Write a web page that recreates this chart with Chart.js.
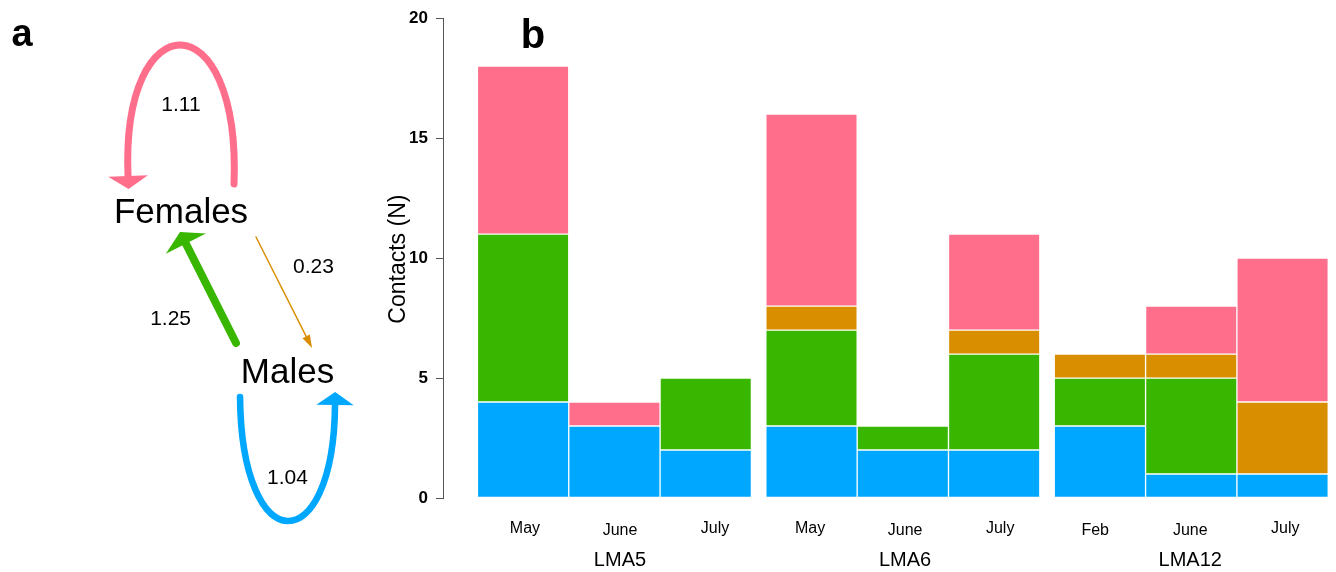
<!DOCTYPE html>
<html>
<head>
<meta charset="utf-8">
<script src="https://cdn.jsdelivr.net/npm/chart.js@4.4.1/dist/chart.umd.min.js"></script>
<style>
  html, body { margin: 0; padding: 0; background: #fff; }
  #wrap { position: relative; width: 1336px; height: 572px; }
  #wrap canvas { position: absolute; top: 0; left: 0; }
</style>
</head>
<body>
<div id="wrap">
  <canvas id="barChart" width="1336" height="572"></canvas>
  <canvas id="netChart" width="400" height="572"></canvas>
</div>
<script>
// ---------- panel b : contacts per survey ----------
const groups = ['LMA5', 'LMA6', 'LMA12'];
const months = ['May', 'June', 'July', 'May', 'June', 'July', 'Feb', 'June', 'July'];
const groupOf = [0, 0, 0, 1, 1, 1, 2, 2, 2];
const maleToMale = [4, 3, 2, 3, 2, 2, 3, 1, 1];         // blue
const maleToFemale = [7, 0, 3, 4, 1, 4, 2, 4, 0];       // green
const femaleToMale = [0, 0, 0, 1, 0, 1, 1, 1, 3];       // orange
const femaleToFemale = [7, 1, 0, 8, 0, 4, 0, 2, 6];     // pink
const yMin = 0, yMax = 20, yStep = 5;

// ---------- panel a : contact rates ----------
const nodeNames = ['Females', 'Males'];
const nodeX = [0, 1];
const nodeY = [1, 0];
const edgeFrom = [0, 0, 1, 1];
const edgeTo = [0, 1, 0, 1];
const edgeRate = [1.11, 0.23, 1.25, 1.04];

// colours
const PINK = '#FF6F8C';
const GREEN = '#38B600';
const ORANGE = '#D98E00';
const BLUE = '#00A7FF';
const edgeColor = [PINK, ORANGE, GREEN, BLUE];

const FONT = '"Liberation Sans", Arial, Helvetica, sans-serif';
Chart.defaults.font.family = FONT;

// bars sit side by side inside a site, with a small gap between sites
const GROUP_GAP = 0.158;
const xPos = months.map((m, i) => groupOf[i] * (3 + GROUP_GAP) + (i % 3));

function toPoints(vals) {
    return vals.map((v, i) => ({ x: xPos[i], y: v }));
}

// draw text centred on its ink box
function inkText(ctx, text, x, yMid) {
    const m = ctx.measureText(text);
    ctx.textBaseline = 'alphabetic';
    ctx.fillText(text, x, yMid + (m.actualBoundingBoxAscent - m.actualBoundingBoxDescent) / 2);
}

const barTextPlugin = {
    id: 'barText',
    afterDraw(chart) {
        const ctx = chart.ctx;
        const xs = chart.scales.x;
        const area = chart.chartArea;
        ctx.save();
        ctx.fillStyle = '#000';
        ctx.textAlign = 'center';

        // month labels evenly spread under the bars
        const lo = xPos[0] - 0.5, hi = xPos[xPos.length - 1] + 0.55;
        const slot = (hi - lo) / months.length;
        ctx.font = '16px ' + FONT;
        months.forEach((m, i) => {
            inkText(ctx, m, xs.getPixelForValue(lo + (i + 0.5) * slot), area.bottom + 30.5);
        });

        // site labels under the middle month
        ctx.font = '20px ' + FONT;
        groups.forEach((g, gi) => {
            const k = gi * 3 + 1;
            inkText(ctx, g, xs.getPixelForValue(lo + (k + 0.5) * slot), area.bottom + 60.5);
        });

        // y title
        ctx.save();
        ctx.translate(area.left - 45, (area.top + area.bottom) / 2 + 1);
        ctx.rotate(-Math.PI / 2);
        ctx.font = '23px ' + FONT;
        inkText(ctx, 'Contacts (N)', 0, 0);
        ctx.restore();

        // panel letter
        ctx.font = 'bold 40px ' + FONT;
        inkText(ctx, 'b', area.left + 90, area.top + 15);
        ctx.restore();
    }
};

new Chart(document.getElementById('barChart'), {
    type: 'bar',
    data: {
        datasets: [
            { label: 'Males → Males', data: toPoints(maleToMale), backgroundColor: BLUE },
            { label: 'Males → Females', data: toPoints(maleToFemale), backgroundColor: GREEN },
            { label: 'Females → Males', data: toPoints(femaleToMale), backgroundColor: ORANGE },
            { label: 'Females → Females', data: toPoints(femaleToFemale), backgroundColor: PINK }
        ]
    },
    options: {
        responsive: false,
        animation: false,
        layout: { padding: { left: 0, right: 0, top: 15, bottom: 74 } },
        plugins: { legend: { display: false }, tooltip: { enabled: false } },
        datasets: {
            bar: {
                barPercentage: 1,
                categoryPercentage: 1,
                borderWidth: 1,
                borderColor: 'rgba(255,255,255,0.6)',
                borderSkipped: false
            }
        },
        scales: {
            x: {
                type: 'linear',
                stacked: true,
                display: false,
                offset: false,
                min: xPos[0] - 0.877,
                max: xPos[xPos.length - 1] + 0.585,
                afterBuildTicks: (s) => { s.ticks = xPos.map(v => ({ value: v })); }
            },
            y: {
                stacked: true,
                min: yMin,
                max: yMax,
                ticks: {
                    stepSize: yStep,
                    padding: 8,
                    color: '#000',
                    font: { size: 17, weight: 'bold' }
                },
                grid: { drawOnChartArea: false, tickLength: 7, color: '#555' },
                border: { color: '#555', width: 1 },
                afterFit: (s) => { s.width = 443; }
            }
        }
    },
    plugins: [barTextPlugin]
});

// ---------- network drawing ----------
// loop shape per node: side -1 = above the label, +1 = below
const loopStyle = [
    { side: -1, spread: 53, startDy: 26, endDy: 34, ctrlSpread: 60, height: 210, labelDist: 106 },
    { side: 1, spread: 47.5, startDy: 27, endDy: 35, ctrlSpread: 46, height: 191, labelDist: 107 }
];
// attachment of straight edges to the node labels (pixel offsets)
const edgeStartOff = [null, [75, 27], [-51.5, -27], null];
const edgeEndOff = [null, [24.5, -22], [-1, 22], null];
const edgeLabelDist = [0, 38, 47, 0];

function arrowHead(ctx, tip, ux, uy, len, hw) {
    const bx = tip.x - ux * len, by = tip.y - uy * len;
    ctx.beginPath();
    ctx.moveTo(tip.x, tip.y);
    ctx.lineTo(bx - uy * hw, by + ux * hw);
    ctx.lineTo(bx + uy * hw, by - ux * hw);
    ctx.closePath();
    ctx.fill();
}

const netPlugin = {
    id: 'net',
    afterDraw(chart) {
        const ctx = chart.ctx;
        const xs = chart.scales.x, ys = chart.scales.y;
        const px = nodeX.map(v => xs.getPixelForValue(v));
        const py = nodeY.map(v => ys.getPixelForValue(v));
        ctx.save();
        ctx.lineCap = 'round';

        edgeRate.forEach((rate, e) => {
            const lw = rate * 6.3;
            const hw = lw * 2.85;
            const len = 13;
            const a = edgeFrom[e], b = edgeTo[e];
            ctx.strokeStyle = edgeColor[e];
            ctx.fillStyle = edgeColor[e];
            ctx.lineWidth = lw;
            let lx, ly;
            if (a === b) {
                const st = loopStyle[a];
                const s = st.side, cx = px[a], cy = py[a];
                const p0 = { x: cx - s * st.spread, y: cy + s * st.startDy };
                const c1 = { x: cx - s * st.ctrlSpread, y: cy + s * st.height };
                const c2 = { x: cx + s * st.ctrlSpread, y: cy + s * st.height };
                const end = { x: cx + s * st.spread, y: cy + s * st.endDy };
                ctx.beginPath();
                ctx.moveTo(p0.x, p0.y);
                ctx.bezierCurveTo(c1.x, c1.y, c2.x, c2.y, end.x, end.y);
                ctx.stroke();
                let ux = end.x - c2.x, uy = end.y - c2.y;
                const d = Math.hypot(ux, uy);
                ux /= d; uy /= d;
                arrowHead(ctx, { x: end.x + ux * len, y: end.y + uy * len }, ux, uy, len, hw);
                lx = cx; ly = cy + s * st.labelDist;
            } else {
                const S = { x: px[a] + edgeStartOff[e][0], y: py[a] + edgeStartOff[e][1] };
                const T = { x: px[b] + edgeEndOff[e][0], y: py[b] + edgeEndOff[e][1] };
                let ux = T.x - S.x, uy = T.y - S.y;
                const d = Math.hypot(ux, uy);
                ux /= d; uy /= d;
                ctx.beginPath();
                ctx.moveTo(S.x, S.y);
                ctx.lineTo(T.x - ux * len, T.y - uy * len);
                ctx.stroke();
                arrowHead(ctx, T, ux, uy, len, hw);
                const mx = (S.x + T.x) / 2, my = (S.y + T.y) / 2;
                const dist = edgeLabelDist[e];
                lx = mx + uy * dist - ux * 10;
                ly = my - ux * dist - uy * 10;
            }
            ctx.fillStyle = '#000';
            ctx.font = '21px ' + FONT;
            ctx.textAlign = 'center';
            inkText(ctx, rate.toFixed(2), lx, ly);
        });

        // node names
        ctx.fillStyle = '#000';
        ctx.textAlign = 'center';
        ctx.font = '35px ' + FONT;
        nodeNames.forEach((n, i) => inkText(ctx, n, px[i], py[i]));

        // panel letter
        ctx.font = 'bold 38px ' + FONT;
        inkText(ctx, 'a', 22, 35);
        ctx.restore();
    }
};

new Chart(document.getElementById('netChart'), {
    type: 'scatter',
    data: {
        datasets: [{
            label: 'nodes',
            data: nodeNames.map((n, i) => ({ x: nodeX[i], y: nodeY[i] })),
            pointRadius: 0
        }]
    },
    options: {
        responsive: false,
        animation: false,
        layout: { padding: 0 },
        plugins: { legend: { display: false }, tooltip: { enabled: false } },
        scales: {
            x: { display: false, min: -1.6995, max: 2.056 },
            y: { display: false, min: -1.2625, max: 2.3125 }
        }
    },
    plugins: [netPlugin]
});
</script>
</body>
</html>
